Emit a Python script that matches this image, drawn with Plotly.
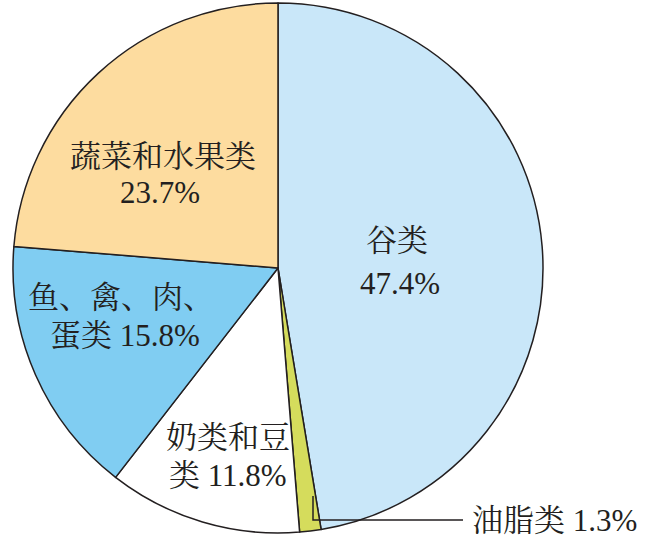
import plotly.graph_objects as go

# slices, clockwise from 12 o'clock
labels = ["谷类", "油脂类", "奶类和豆类", "鱼、禽、肉、蛋类", "蔬菜和水果类"]
values = [47.4, 1.3, 11.8, 15.8, 23.7]
colors = ["#c9e7f9", "#d5dc5c", "#ffffff", "#80cdf2", "#fddc9f"]

W, H = 656, 542
FONT = "Times New Roman, Liberation Serif, Noto Serif CJK SC, Noto Sans CJK SC, serif"
TXT = "#231f20"

fig = go.Figure(
    go.Pie(
        labels=labels,
        values=values,
        sort=False,
        direction="clockwise",
        rotation=0,
        textinfo="none",
        hoverinfo="label+percent",
        marker=dict(colors=colors, line=dict(color="#231f20", width=1.5)),
        domain=dict(x=[13 / W, 543 / W], y=[9 / H, 539 / H]),
        showlegend=False,
    )
)

def pct(i):
    return f"{values[i]}%"

# (text, x_px, y_px, xanchor)
label_lines = [
    ("谷类", 397, 240, "center"),
    (pct(0), 400, 283, "center"),
    ("蔬菜和水果类", 163, 157, "center"),
    (pct(4), 160, 193, "center"),
    ("鱼、禽、肉、", 26, 297, "left"),
    ("蛋类 " + pct(3), 125, 335, "center"),
    ("奶类和豆", 228, 437, "center"),
    ("类 " + pct(2), 228, 475, "center"),
    ("油脂类 " + pct(1), 470, 520, "left"),
]
for text, x, y, xa in label_lines:
    fig.add_annotation(
        x=x / W, y=1 - y / H, xref="paper", yref="paper",
        text=text, showarrow=False, xanchor=xa, yanchor="middle",
        font=dict(family=FONT, size=31, color=TXT),
    )

# leader line for the thin slice
fig.add_shape(
    type="path", xref="paper", yref="paper",
    path=f"M {313 / W},{1 - 496 / H} L {313 / W},{1 - 520 / H} L {463 / W},{1 - 520 / H}",
    line=dict(color="#231f20", width=1.5),
)

fig.update_layout(
    width=W,
    height=H,
    margin=dict(l=0, r=0, t=0, b=0),
    paper_bgcolor="white",
    plot_bgcolor="white",
    font=dict(family=FONT, color=TXT),
)

# page body margin would shift the figure by 8px
fig.write_html(
    "out.html",
    config={"displayModeBar": False},
    post_script="document.body.style.margin='0px';",
)
